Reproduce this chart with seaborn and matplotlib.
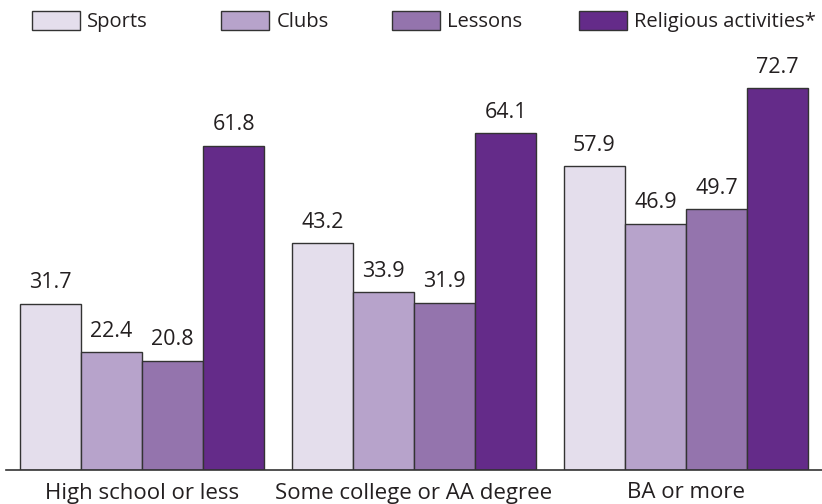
import matplotlib
matplotlib.use("Agg")
import matplotlib.pyplot as plt
from matplotlib.patches import Patch
import seaborn as sns
import pandas as pd

education = ["High school or less", "Some college or AA degree", "BA or more"]
activities = ["Sports", "Clubs", "Lessons", "Religious activities*"]
sports = [31.7, 43.2, 57.9]
clubs = [22.4, 33.9, 46.9]
lessons = [20.8, 31.9, 49.7]
religious = [61.8, 64.1, 72.7]
colors = ["#e4deec", "#b7a3cb", "#9474ad", "#642b89"]

rows = []
for act, vals in zip(activities, [sports, clubs, lessons, religious]):
    for edu, v in zip(education, vals):
        rows.append({"education": edu, "activity": act, "value": v})
df = pd.DataFrame(rows)

sns.set_theme(style="white")
plt.rcParams["font.family"] = ["Open Sans", "DejaVu Sans"]
plt.rcParams["text.color"] = "#231f20"

fig = plt.figure(figsize=(8.22, 5.04), dpi=100)
ax = fig.add_axes([6 / 822, 34 / 504, 816 / 822, 420 / 504])

sns.barplot(data=df, x="education", y="value", hue="activity",
            order=education, hue_order=activities, palette=colors,
            width=0.9, edgecolor="#333333", linewidth=1.0,
            saturation=1, ax=ax, legend=False)

for cont in ax.containers:
    ax.bar_label(cont, fmt="%.1f", padding=7.5, fontsize=15.5, color="#231f20")

ax.set_xlim(-0.5, 2.5)
ax.set_ylim(0, 80)
ax.set_xlabel("")
ax.set_ylabel("")
ax.set_yticks([])
ax.tick_params(axis="x", length=0, labelsize=16, pad=9, colors="#231f20")
for side in ["top", "right", "left"]:
    ax.spines[side].set_visible(False)
ax.spines["bottom"].set_color("#333333")
ax.spines["bottom"].set_linewidth(1.2)

# one legend entry per activity, spaced along the top edge
legend_x = [32, 221, 392, 579]
for label, color, x in zip(activities, colors, legend_x):
    h = Patch(facecolor=color, edgecolor="#333333", linewidth=1.0)
    fig.legend([h], [label], loc="upper left",
               bbox_to_anchor=(x / 822, 1 - 11 / 504),
               frameon=False, fontsize=14.5, handlelength=2.4,
               handleheight=1.05, handletextpad=0.35,
               borderpad=0, borderaxespad=0)

fig.savefig("out.png", dpi=100)
